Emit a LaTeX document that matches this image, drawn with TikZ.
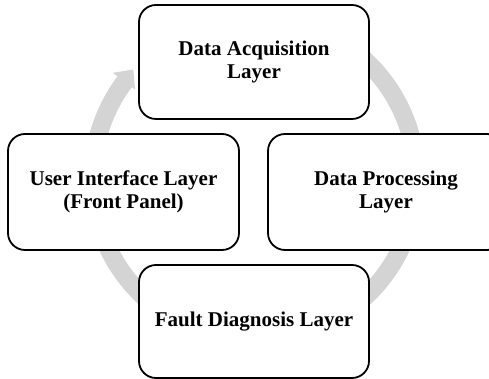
\documentclass[tikz,border=0pt]{standalone}
\usepackage{fontspec}
\setmainfont{Liberation Serif}
\usetikzlibrary{calc}
\definecolor{ringgray}{RGB}{212,212,212}
\tikzset{
  layerbox/.style={draw=black, line width=1.8pt, fill=white, rounded corners=17pt,
    minimum width=230pt, align=center, inner sep=0pt,
    font=\fontsize{21}{22.5}\selectfont\bfseries},
}
\begin{document}
\begin{tikzpicture}[x=1pt,y=1pt]
\useasboundingbox (0,0) rectangle (489,379);
\clip (0,0) rectangle (489,379);
\coordinate (c) at (254.5,200.4);
% ring
\draw[ringgray, line width=18pt] ($(c)+(90:162)$) arc[start angle=90, end angle=-217, radius=162];
\fill[ringgray] ($(c)+(143.3:177)$) -- ($(c)+(138:163)$) -- ($(c)+(143.3:149)$) -- cycle;
% boxes
\node[layerbox, minimum height=114pt] (acq) at (254,317) {Data Acquisition\\Layer};
\node[layerbox, minimum width=231pt, minimum height=116pt] (ui) at (123.5,187) {User Interface Layer\\(Front Panel)};
\node[layerbox, minimum width=236pt, minimum height=116pt] (proc) at (386,187) {Data Processing\\Layer};
\node[layerbox, minimum height=113pt] (fault) at (254,57.5) {Fault Diagnosis Layer};
\end{tikzpicture}
\end{document}
